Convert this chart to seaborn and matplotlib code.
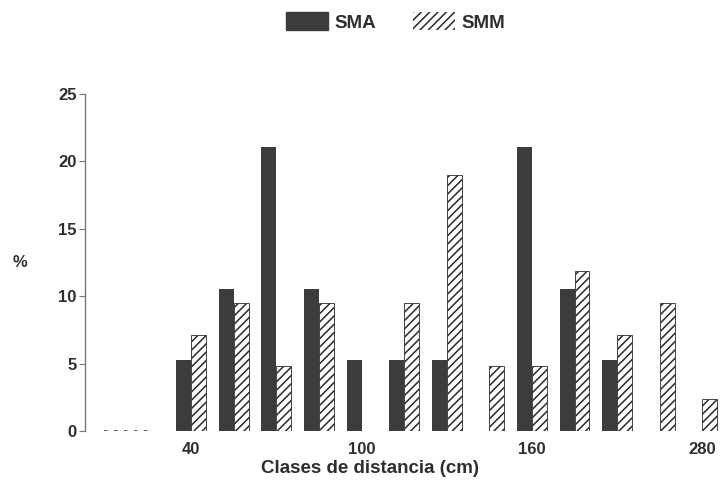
import matplotlib
matplotlib.use("Agg")
import matplotlib.pyplot as plt
from matplotlib.patches import Patch
import seaborn as sns
import pandas as pd

# Distance classes (cm) and percentage of cases per class for each series
classes = ["10", "25", "40", "55", "70", "85", "100", "115", "130",
           "145", "160", "175", "190", "205", "220"]
sma = [0, 0, 5.3, 10.5, 21.1, 10.5, 5.3, 5.3, 5.3, 0, 21.1, 10.5, 5.3, 0, 0]
smm = [0, 0, 7.1, 9.5, 4.8, 9.5, 0, 9.5, 19.0, 4.8, 4.8, 11.9, 7.1, 9.5, 2.4]
series = ["SMA", "SMM"]

tick_classes = ["40", "100", "160", "220"]
tick_text = ["40", "100", "160", "280"]
y_ticks = [0, 5, 10, 15, 20, 25]

sns.set_theme(style="white")
plt.rcParams["font.family"] = ["Liberation Sans", "DejaVu Sans"]
plt.rcParams["font.weight"] = "bold"
plt.rcParams["hatch.linewidth"] = 1.1

TXT = "#2e2e2e"
DARK = "#3c3c3c"

df = pd.DataFrame({
    "clase": classes * 2,
    "pct": sma + smm,
    "serie": [series[0]] * len(classes) + [series[1]] * len(classes),
})

fig = plt.figure(figsize=(7.22, 4.91), dpi=100)
ax = fig.add_axes([85 / 722, 60 / 491, 637 / 722, 337 / 491])

sns.barplot(data=df, x="clase", y="pct", hue="serie", order=classes,
            hue_order=series, palette=[DARK, "white"], width=0.7,
            saturation=1, ax=ax, legend=False)

for bar in ax.containers[0]:
    bar.set_edgecolor(DARK)
    bar.set_linewidth(0)
for bar in ax.containers[1]:
    bar.set_facecolor("white")
    bar.set_edgecolor("#2a2a2a")
    bar.set_hatch("////")
    bar.set_linewidth(0.6)

# dotted baseline over the leading empty classes
n_empty = 0
for a, b in zip(sma, smm):
    if a == 0 and b == 0:
        n_empty += 1
    else:
        break
if n_empty > 1:
    ax.hlines(0, -0.05, n_empty - 1 + 0.1, colors="#555555",
              linestyles=(0, (2, 3.5)), linewidth=1.3, zorder=3)

ax.set_xlim(-0.49, 14.46)
ax.set_ylim(0, 25)
ax.set_yticks(y_ticks)
ax.set_yticklabels([str(v) for v in y_ticks])
ax.set_xticks([classes.index(c) for c in tick_classes])
ax.set_xticklabels(tick_text)

for s in ["top", "right", "bottom"]:
    ax.spines[s].set_visible(False)
ax.spines["left"].set_color("#777777")
ax.spines["left"].set_linewidth(1.0)

ax.tick_params(axis="x", length=0, pad=8, labelsize=12, labelcolor=TXT)
ax.tick_params(axis="y", left=True, length=4, width=0.8, color="#777777",
               pad=2, labelsize=12, labelcolor=TXT)

ax.set_xlabel("Clases de distancia (cm)", fontsize=13.5, color=TXT,
              fontweight="bold")
ax.xaxis.label.set_va("center")
ax.xaxis.set_label_coords(0.447, -0.11)
ax.set_ylabel("%", fontsize=12, color=TXT, rotation=0, fontweight="bold")
ax.yaxis.label.set_va("center")
ax.yaxis.set_label_coords(-0.102, 0.50)

handles = [Patch(facecolor=DARK, edgecolor=DARK, label=series[0]),
           Patch(facecolor="white", edgecolor="#2a2a2a", hatch="////",
                 linewidth=0, label=series[1])]
fig.legend(handles=handles, loc="center", bbox_to_anchor=(0.548, 0.955),
           ncol=2, frameon=False, fontsize=13.5, handlelength=2.2,
           handleheight=1.1, handletextpad=0.35, columnspacing=2.0,
           borderpad=0, labelcolor=TXT)

fig.savefig("out.png", dpi=100, facecolor="white")
